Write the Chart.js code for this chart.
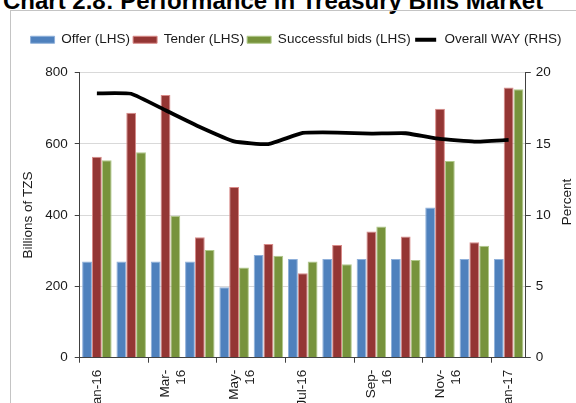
<!DOCTYPE html>
<html><head><meta charset="utf-8">
<script src="https://cdn.jsdelivr.net/npm/chart.js@4.4.1/dist/chart.umd.min.js"></script>
<style>
html,body{margin:0;padding:0;background:#fff;overflow:hidden;width:576px;height:403px;}
#title{position:absolute;left:3px;top:-11px;font:bold 24px "Liberation Sans",Arial,sans-serif;line-height:24px;color:#000;white-space:nowrap;}
#frame{position:absolute;left:10px;top:10px;width:600px;height:420px;border:1px solid #c4c4c4;box-sizing:border-box;}
#wrap{position:absolute;left:11px;top:11px;width:565px;height:407px;}
</style></head><body>
<div id="title">Chart 2.8: Performance in Treasury Bills Market</div>
<div id="frame"></div>
<div id="wrap"><canvas id="c"></canvas></div>
<script>
const categories = ['Jan-16','Feb-16','Mar-16','Apr-16','May-16','Jun-16','Jul-16','Aug-16','Sep-16','Oct-16','Nov-16','Dec-16','Jan-17'];
const xTickLabels = ['Jan-16','',['Mar-','16'],'',['May-','16'],'','Jul-16','',['Sep-','16'],'',['Nov-','16'],'','Jan-17'];
const offer = [270, 270, 270, 270, 198, 288, 277, 277, 277, 277, 421, 277, 277];
const tender = [564, 687, 737, 338, 479, 319, 237, 316, 354, 340, 698, 324, 758];
const successful = [554, 576, 398, 302, 253, 286, 270, 262, 368, 274, 552, 314, 753];
const overallWay = [18.54, 18.51, 17.35, 16.18, 15.17, 14.98, 15.76, 15.79, 15.72, 15.74, 15.34, 15.15, 15.27];
const leftTicks = [0, 200, 400, 600, 800];
const rightTicks = [0, 5, 10, 15, 20];

const FONT = {family: '"Liberation Sans", Arial, sans-serif', size: 13.5};
const TXT = '#1a1a1a';
const AXIS = '#404040';

const legendGap = {
  id: 'legendGap',
  beforeInit(chart) {
    const fit = chart.legend.fit;
    chart.legend.fit = function () { fit.call(this); this.height += 16; };
  }
};
const upTitle = {
  id: 'upTitle',
  afterDraw(chart) {
    const s = chart.scales.y1;
    const ctx = chart.ctx;
    const lh = FONT.size * 1.2;
    ctx.save();
    ctx.font = `${FONT.size}px ${FONT.family}`;
    ctx.fillStyle = TXT;
    ctx.textAlign = 'center';
    ctx.textBaseline = 'middle';
    ctx.translate(s.right - 1 - lh / 2, (s.top + s.bottom) / 2 - 13);
    ctx.rotate(-Math.PI / 2);
    ctx.fillText('Percent', 0, 0);
    ctx.restore();
  }
};

new Chart(document.getElementById('c'), {
  type: 'bar',
  data: {
    labels: categories,
    datasets: [
      {label: 'Offer (LHS)', data: offer, backgroundColor: '#4f81bd', borderColor: '#8fb0da', borderWidth: 1, yAxisID: 'y', order: 1},
      {label: 'Tender (LHS)', data: tender, backgroundColor: '#943634', borderColor: '#d98a88', borderWidth: 1, yAxisID: 'y', order: 1},
      {label: 'Successful bids (LHS)', data: successful, backgroundColor: '#77933c', borderColor: '#b0c98a', borderWidth: 1, yAxisID: 'y', order: 1},
      {type: 'line', label: 'Overall WAY (RHS)', data: overallWay, yAxisID: 'y1', borderColor: '#000', backgroundColor: '#000', borderWidth: 3.8, pointRadius: 0, tension: 0.12, order: -1}
    ]
  },
  plugins: [legendGap, upTitle],
  options: {
    responsive: true,
    maintainAspectRatio: false,
    animation: false,
    datasets: {bar: {categoryPercentage: 0.86, barPercentage: 1.0}},
    layout: {padding: {left: 5, right: 0, top: 19, bottom: 0}},
    plugins: {
      tooltip: {enabled: false},
      legend: {
        position: 'top',
        labels: {
          font: FONT, color: TXT, boxWidth: 24, boxHeight: 7, padding: 3,
          sort: (a, b) => a.datasetIndex - b.datasetIndex,
          generateLabels(chart) {
            const items = Chart.defaults.plugins.legend.labels.generateLabels(chart);
            items.forEach(it => {
              if (it.datasetIndex === 3) { it.fillStyle = '#000'; it.strokeStyle = '#fff'; it.lineWidth = 3; }
              else { it.lineWidth = 1; }
            });
            return items;
          }
        }
      }
    },
    scales: {
      x: {
        offset: true,
        grid: {display: true, drawOnChartArea: false, drawTicks: true, tickLength: 5, offset: true,
               tickColor: ctx => (ctx.index % 2 === 0 ? AXIS : 'rgba(0,0,0,0)')},
        border: {color: AXIS, width: 1},
        ticks: {autoSkip: false, maxRotation: 90, minRotation: 90, padding: 7, font: FONT, color: TXT,
                callback: (v, i) => xTickLabels[i]}
      },
      y: {
        position: 'left', min: 0, max: 800,
        afterBuildTicks: s => { s.ticks = leftTicks.map(v => ({value: v})); },
        grid: {color: '#d9d9d9', tickColor: AXIS, tickLength: 5, lineWidth: 1},
        border: {color: AXIS, width: 1},
        ticks: {font: FONT, color: TXT, padding: 7},
        title: {display: true, text: 'Billions of TZS', font: FONT, color: TXT, padding: {top: 4, bottom: 2}}
      },
      y1: {
        position: 'right', min: 0, max: 20,
        afterBuildTicks: s => { s.ticks = rightTicks.map(v => ({value: v})); },
        grid: {drawOnChartArea: false, tickColor: AXIS, tickLength: 5},
        border: {color: AXIS, width: 1},
        ticks: {font: FONT, color: TXT, padding: 5},
        title: {display: true, text: 'Percent', font: FONT, color: 'rgba(0,0,0,0)', padding: {top: 1, bottom: 3}}
      }
    }
  }
});
</script>
</body></html>
